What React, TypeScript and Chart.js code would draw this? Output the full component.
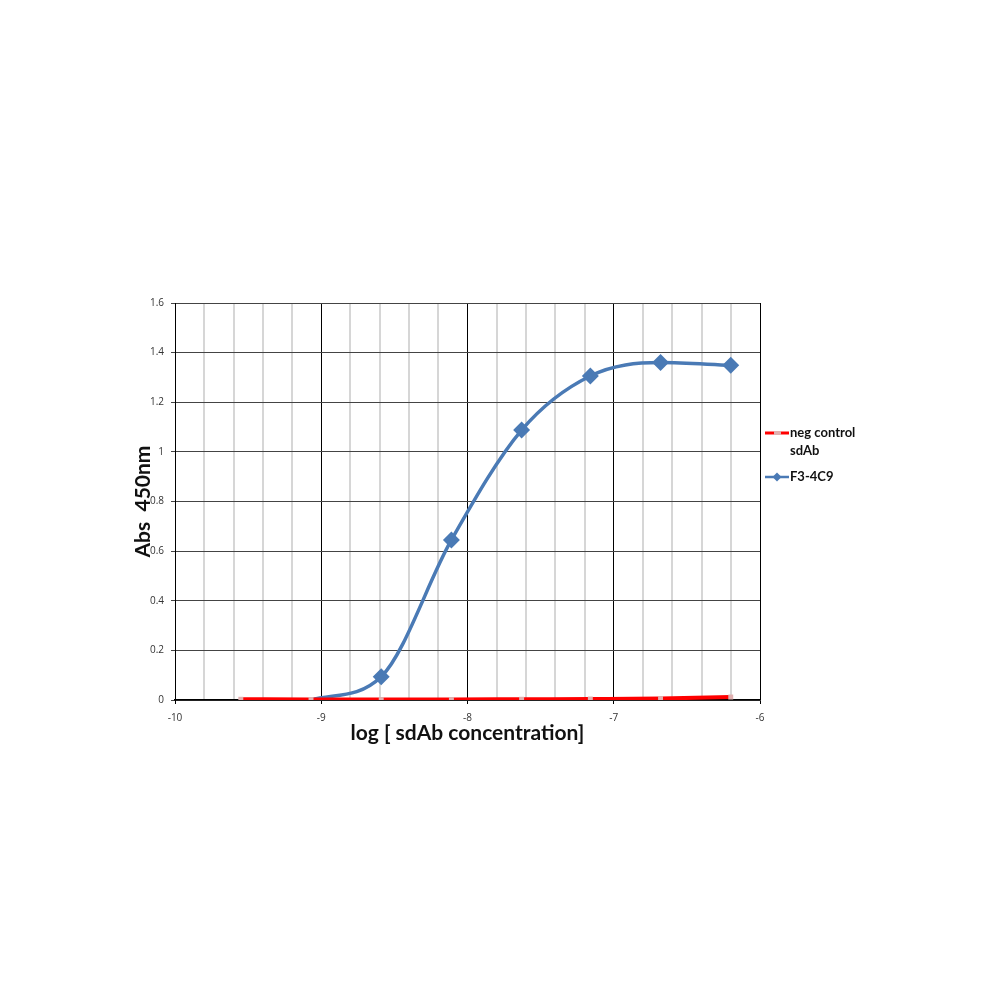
import React, { useEffect, useRef } from "react";
import { Chart, registerables } from "chart.js";

Chart.register(...registerables);

const logConc = [-9.55, -9.07, -8.59, -8.11, -7.63, -7.16, -6.68, -6.2];
const negControl = [0.003, 0.002, 0.002, 0.002, 0.003, 0.004, 0.006, 0.012];
const f34c9 = [null, 0.0, 0.094, 0.645, 1.088, 1.306, 1.36, 1.349];
const seriesNames = ["neg control", "F3-4C9"];
const xTitle = "log [ sdAb concentration]";
const yTitle = "Abs  450nm";
const xMin = -10;
const xMax = -6;
const yMax = 1.6;

const isInt = (v: number) => Math.abs(v - Math.round(v)) < 1e-6;

const legendPlugin = {
  id: "customLegend",
  afterDraw(chart: any) {
    const ctx = chart.ctx;
    ctx.save();
    ctx.font = "bold 13px Lato, 'Open Sans', sans-serif";
    ctx.fillStyle = "#111";
    ctx.textBaseline = "middle";
    // neg control
    ctx.strokeStyle = "#ff0000";
    ctx.lineWidth = 3;
    ctx.beginPath();
    ctx.moveTo(765, 433);
    ctx.lineTo(789, 433);
    ctx.stroke();
    ctx.fillStyle = "#e0b0b0";
    ctx.fillRect(774, 431, 7, 4);
    ctx.fillStyle = "#111";
    ctx.fillText(seriesNames[0], 790, 433);
    ctx.fillText("sdAb", 790, 451);
    // F3-4C9
    ctx.strokeStyle = "#4a7ab5";
    ctx.lineWidth = 2.5;
    ctx.beginPath();
    ctx.moveTo(765, 477);
    ctx.lineTo(789, 477);
    ctx.stroke();
    ctx.fillStyle = "#4a7ab5";
    ctx.beginPath();
    ctx.moveTo(777, 472.5);
    ctx.lineTo(781.5, 477);
    ctx.lineTo(777, 481.5);
    ctx.lineTo(772.5, 477);
    ctx.closePath();
    ctx.fill();
    ctx.fillStyle = "#111";
    ctx.fillText(seriesNames[1], 790, 477);
    ctx.restore();
  },
};

export default function App() {
  const ref = useRef<HTMLCanvasElement>(null);
  useEffect(() => {
    if (!ref.current) return;
    const chart = new Chart(ref.current, {
      type: "line",
      data: {
        datasets: [
          {
            label: seriesNames[0],
            data: logConc.map((x, i) => ({ x, y: negControl[i] })),
            borderColor: "#ff0000",
            borderWidth: 4,
            pointStyle: "rect",
            pointRadius: 3.5,
            pointBackgroundColor: "#e0b0b0",
            pointBorderColor: "#e0b0b0",
            pointBorderWidth: 0,
            cubicInterpolationMode: "monotone",
            order: 0,
          },
          {
            label: seriesNames[1],
            data: logConc
              .map((x, i) => ({ x, y: f34c9[i] }))
              .filter((p) => p.y !== null) as any,
            borderColor: "#4a7ab5",
            borderWidth: 3.5,
            pointStyle: "rectRot",
            pointRadius: (c: any) => (c.dataIndex === 0 ? 0 : 6),
            pointBackgroundColor: "#4a7ab5",
            pointBorderColor: "#4a7ab5",
            cubicInterpolationMode: "monotone",
            order: 1,
          },
        ],
      },
      plugins: [legendPlugin],
      options: {
        animation: false,
        responsive: false,
        maintainAspectRatio: false,
        layout: { padding: { left: 131, right: 240, top: 303, bottom: 254 } },
        plugins: { legend: { display: false }, tooltip: { enabled: false } },
        scales: {
          x: {
            type: "linear",
            min: xMin,
            max: xMax,
            afterFit: (s: any) => {
              s.height = 46;
            },
            ticks: {
              stepSize: 0.2,
              autoSkip: false,
              maxRotation: 0,
              padding: 8,
              color: "#333",
              font: { size: 10, family: "'Open Sans', sans-serif" },
              callback: (v: any) => (isInt(Number(v)) ? String(Math.round(Number(v))) : ""),
            },
            grid: {
              color: (c: any) => (isInt(c.tick.value) ? "#000" : "#d6d6d6"),
              lineWidth: (c: any) => (isInt(c.tick.value) ? 1 : 2),
              tickColor: (c: any) => (isInt(c.tick.value) ? "#000" : "rgba(0,0,0,0)"),
              tickLength: 4,
            },
            border: { color: "#000", width: 1.5 },
            title: {
              display: true,
              text: xTitle,
              padding: 0,
              color: "#111",
              font: { size: 21, weight: "bold", family: "Lato, 'Open Sans', sans-serif" },
            },
          },
          y: {
            min: 0,
            max: yMax,
            afterFit: (s: any) => {
              s.width = 44;
            },
            ticks: {
              stepSize: 0.2,
              padding: 7,
              color: "#333",
              font: { size: 10, family: "'Open Sans', sans-serif" },
              callback: (v: any) => String(Math.round(Number(v) * 10) / 10),
            },
            grid: {
              color: "#444",
              lineWidth: 1,
              tickLength: 4,
            },
            border: { color: "#000", width: 1 },
            title: {
              display: true,
              text: yTitle,
              padding: 0,
              color: "#111",
              font: { size: 21, weight: "bold", family: "Lato, 'Open Sans', sans-serif" },
            },
          },
        },
      },
    });
    return () => chart.destroy();
  }, []);
  return (
    <div style={{ position: "fixed", left: 0, top: 0, width: 1000, height: 1000, background: "#fff" }}>
      <canvas ref={ref} width={1000} height={1000} style={{ width: 1000, height: 1000 }} />
    </div>
  );
}
